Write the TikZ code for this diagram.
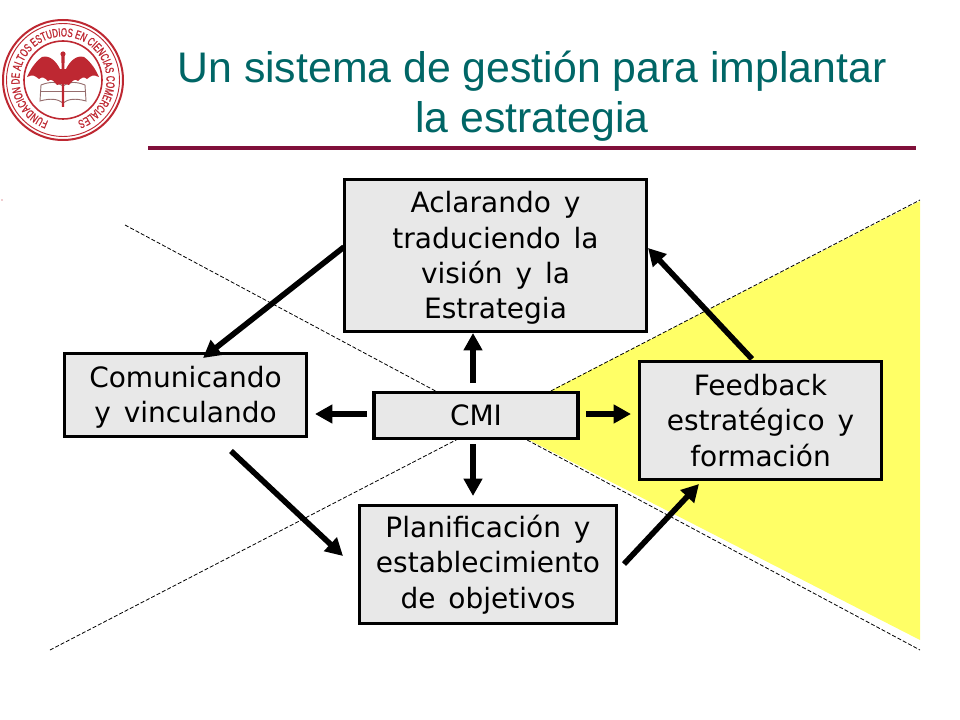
\documentclass[tikz,border=0pt]{standalone}
\usepackage{fontspec}
\setmainfont{DejaVu Sans}[WordSpace=1.45]
\newfontfamily\titlefont{Liberation Sans}
\newfontfamily\logofont{Liberation Sans}[FakeBold=1.2,FakeStretch=0.66]
\usetikzlibrary{arrows.meta,decorations.text}
\definecolor{titlegreen}{RGB}{0,102,102}
\definecolor{rulered}{RGB}{128,16,58}
\definecolor{boxfill}{RGB}{232,232,232}
\definecolor{softyellow}{RGB}{255,255,102}
\definecolor{logored}{RGB}{190,40,50}
\definecolor{bookgrey}{RGB}{150,110,110}
\tikzset{
  x=0.75pt,y=-0.75pt,
  box/.style={draw=black,line width=2.3pt,fill=boxfill,align=center,font=\fontsize{21}{26.5}\selectfont,inner sep=0pt,anchor=center},
  fat/.style={line width=4.2pt,-{Triangle[length=13pt,width=13.5pt]}},
  guide/.style={draw=black,line width=0.6pt,dash pattern=on 3pt off 1.5pt},
}
\begin{document}
\begin{tikzpicture}
\useasboundingbox (0,0) rectangle (960,720);
% yellow wedge and dashed guides
\fill[softyellow] (492,421) -- (920,201) -- (920,640) -- cycle;
\coordinate (g1a) at (125,225); \coordinate (g1b) at (920,650);
\coordinate (g2a) at (50,650); \coordinate (g2b) at (920,200);
\draw[guide] (g1a) -- (g1b);
\draw[guide] (g2a) -- (g2b);
% title
\node[text=titlegreen,font=\titlefont\fontsize{32.1}{37.5}\selectfont,align=center] (title) at (532,96) {Un sistema de gestión para implantar\\la estrategia};
\coordinate (ruleL) at (148,148); \coordinate (ruleR) at (916,148);
\draw[rulered,line width=2.4pt] (ruleL) -- (ruleR);
\node[circle,fill=logored,inner sep=0pt,minimum size=0.9pt] (dot) at (2,200) {};
% boxes
\node[box,minimum width=226pt,minimum height=114pt] (vision) at (495.5,255.5) {\rule{0pt}{20pt}Aclarando y\\traduciendo la\\visión y la\\Estrategia};
\node[box,minimum width=181pt,minimum height=62pt] (comm) at (185.5,395) {\rule{0pt}{19pt}Comunicando\\y vinculando};
\node[box,minimum width=153pt,minimum height=35pt] (cmi) at (476,415.5) {CMI};
\node[box,minimum width=181.5pt,minimum height=88pt] (feed) at (760.5,420.5) {Feedback\\estratégico y\\formación};
\node[box,minimum width=192.5pt,minimum height=88pt] (plan) at (488,564.5) {Planificación y\\establecimiento\\de objetivos};
% arrows
\coordinate (a1s) at (344,247); \coordinate (a1e) at (203,358);
\coordinate (a2s) at (231,451); \coordinate (a2e) at (343,556);
\coordinate (a3s) at (624,564); \coordinate (a3e) at (699,484);
\coordinate (a4s) at (752,359); \coordinate (a4e) at (648,248);
\coordinate (c1s) at (473,383); \coordinate (c1e) at (473,333);
\coordinate (c2s) at (367,414); \coordinate (c2e) at (315,414);
\coordinate (c3s) at (586,414); \coordinate (c3e) at (631,414);
\coordinate (c4s) at (473,444); \coordinate (c4e) at (473,496);
\foreach \s/\e in {a1s/a1e,a2s/a2e,a3s/a3e,a4s/a4e,c1s/c1e,c2s/c2e,c3s/c3e,c4s/c4e}
  \draw[fat] (\s) -- (\e);
% logo
\begin{scope}[shift={(63,80)}]
\draw[logored,line width=1.5pt] (0,0) circle[radius=60];
\draw[logored,line width=0.7pt] (0,0) circle[radius=56.5];
\draw[logored,line width=1.2pt] (0,0) circle[radius=39];
% book
\draw[bookgrey,line width=0.7pt] (-22,5) .. controls (-12,1) and (-5,2) .. (0,6) .. controls (5,2) and (12,1) .. (22,5) -- (23,21) .. controls (12,18) and (5,19) .. (0,23) .. controls (-5,19) and (-12,18) .. (-23,21) -- cycle;
\draw[bookgrey,line width=0.5pt] (-23,11) -- (23,11);
% wings
\fill[logored] (-2,-9) .. controls (-7,-20) and (-14,-25) .. (-21,-23) .. controls (-28,-18) and (-33,-10) .. (-36,-3) .. controls (-30,-6) and (-28,-4) .. (-24,-1) .. controls (-21,-4) and (-18,-2) .. (-15,1) .. controls (-12,-2) and (-9,1) .. (-6,5) -- (-2,4) -- cycle;
\fill[logored] (2,-9) .. controls (7,-20) and (14,-25) .. (21,-23) .. controls (28,-18) and (33,-10) .. (36,-3) .. controls (30,-6) and (28,-4) .. (24,-1) .. controls (21,-4) and (18,-2) .. (15,1) .. controls (12,-2) and (9,1) .. (6,5) -- (2,4) -- cycle;
\fill[logored] (-1.6,-26) -- (1.6,-26) -- (1,27) -- (-1,27) -- cycle;
\fill[logored] (0,-26) circle[radius=2.6];
\fill[logored] (-3.5,-11) rectangle (3.5,4);
% ring lettering
\path[y=0.75pt,decorate,decoration={text along path,text align=center,text color=logored,
  text={|\logofont\fontsize{9}{10}\selectfont|FUNDACION DE ALTOS ESTUDIOS EN CIENCIAS COMERCIALES}}]
  (250:43.5) arc[start angle=250,delta angle=-320,radius=43.5];
\end{scope}
\end{tikzpicture}
\end{document}
